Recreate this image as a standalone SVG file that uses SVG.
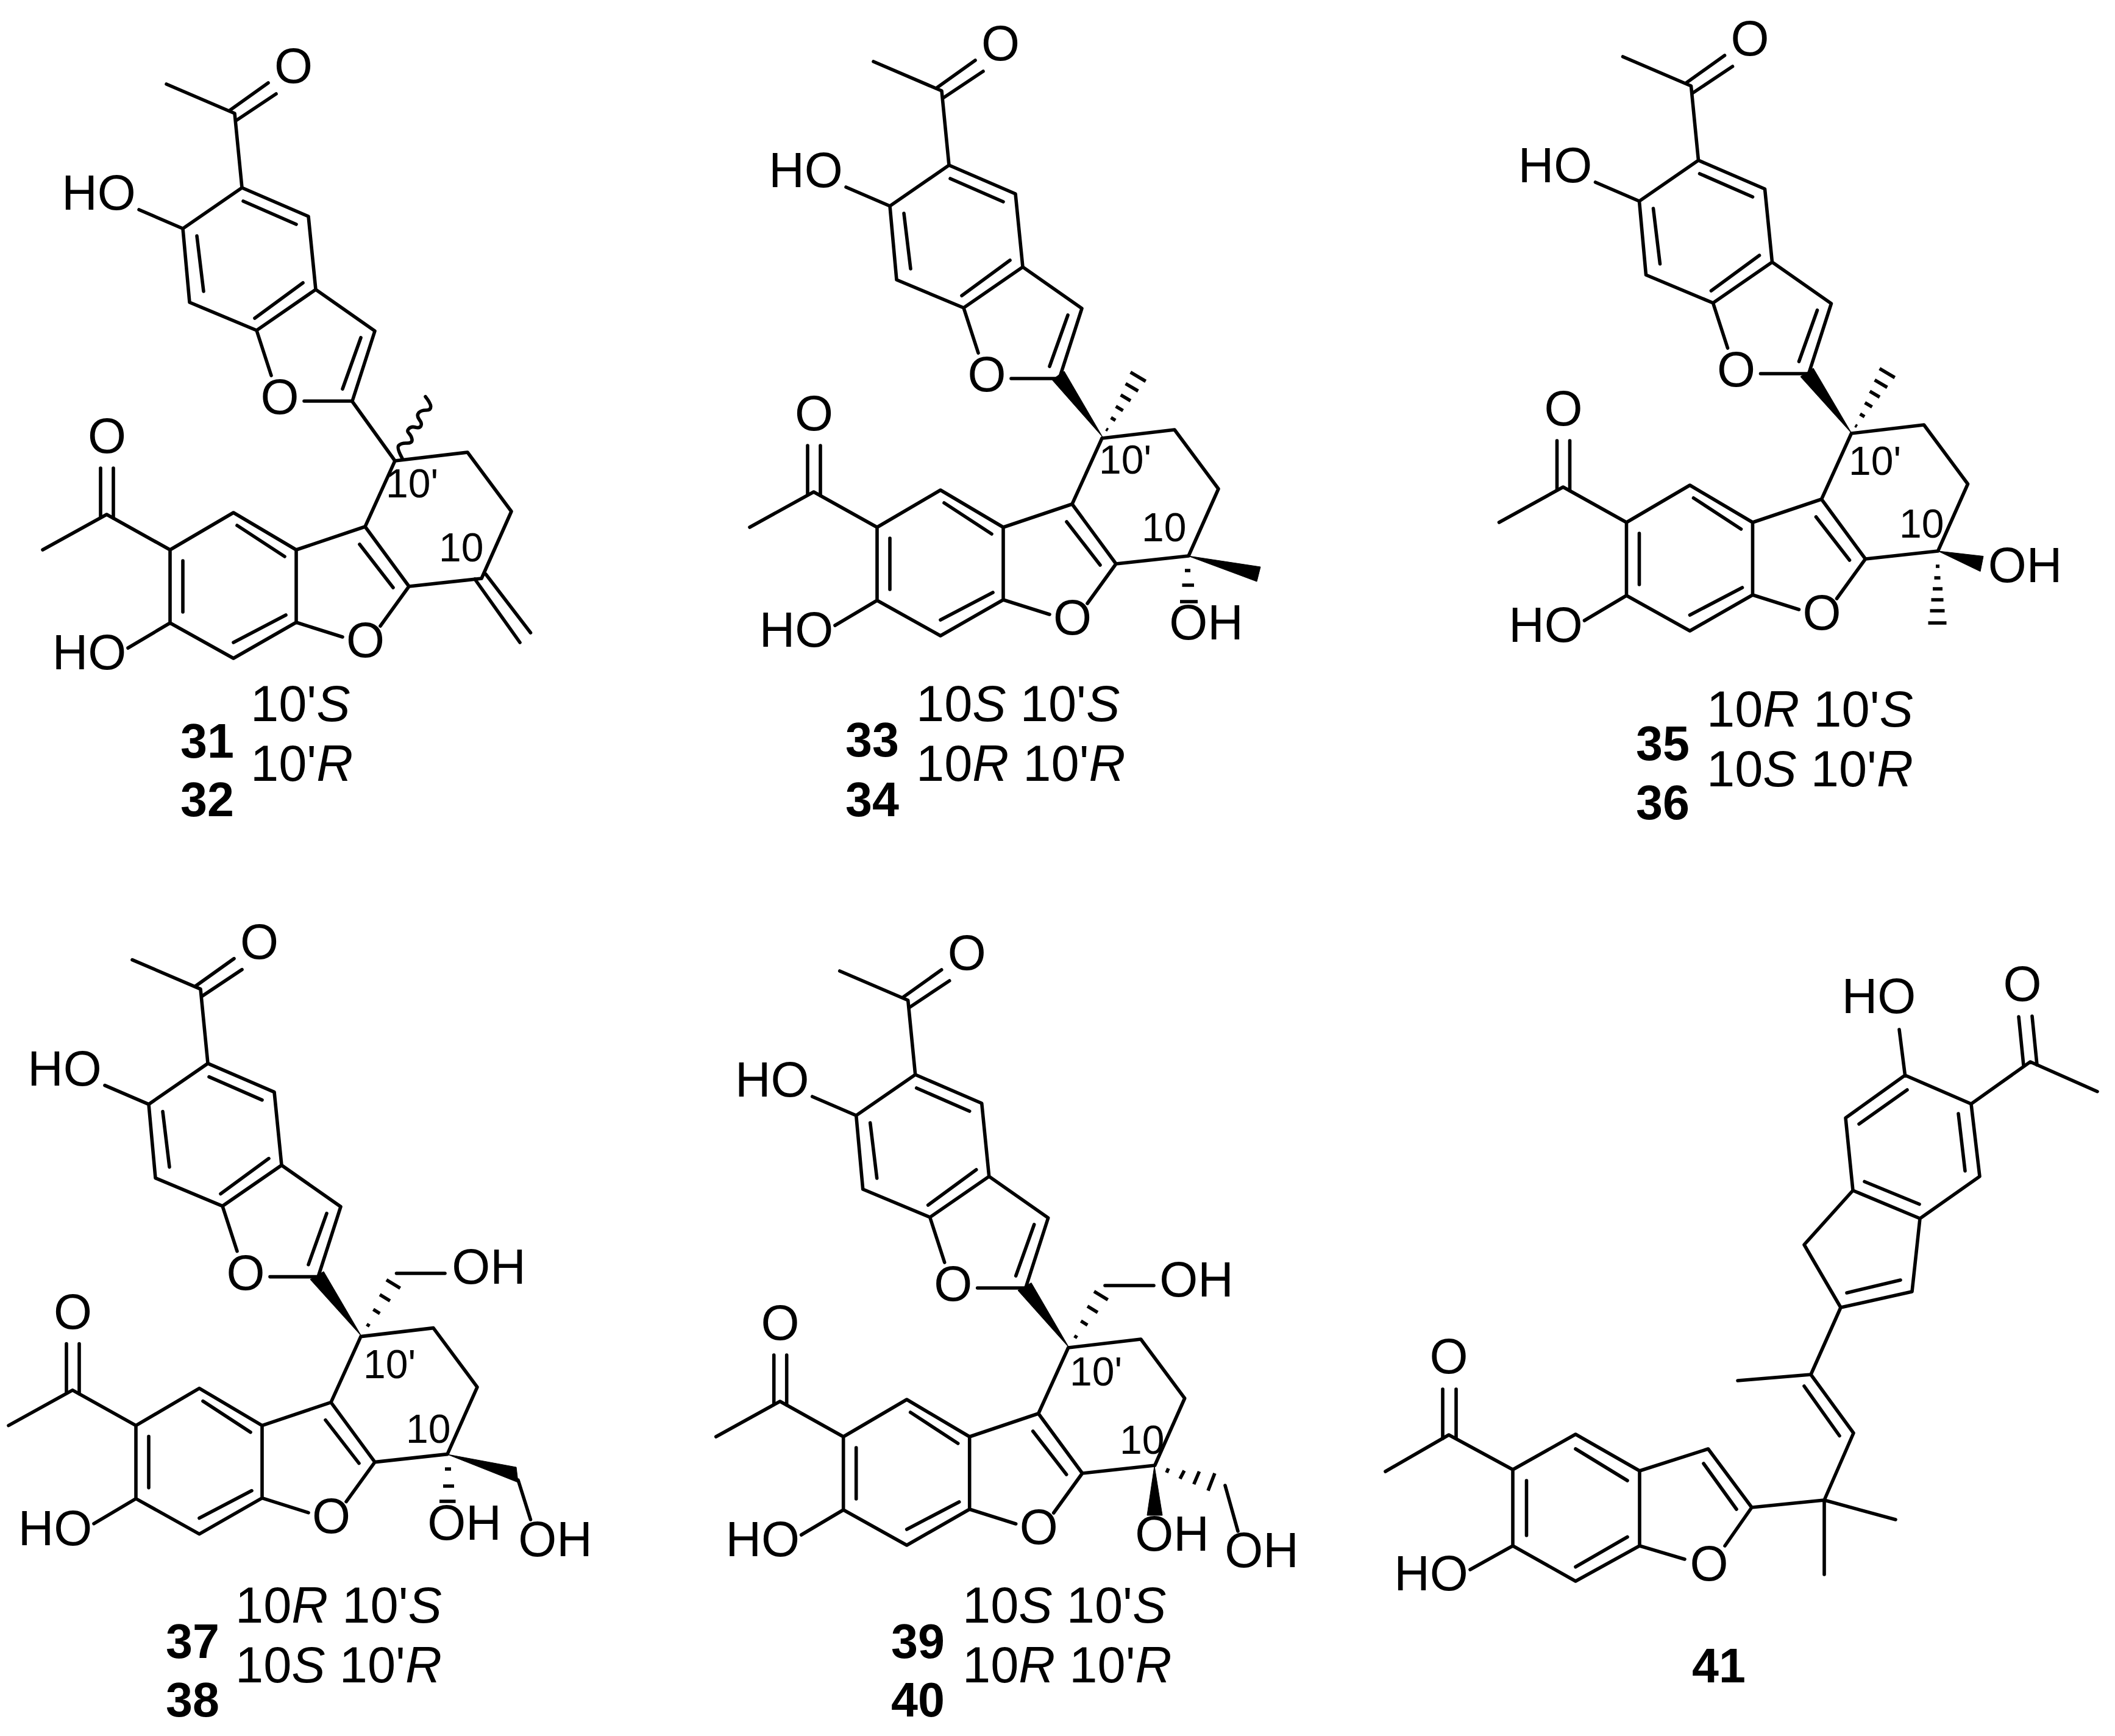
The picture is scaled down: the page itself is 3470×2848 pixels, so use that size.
<svg xmlns="http://www.w3.org/2000/svg" xmlns:xlink="http://www.w3.org/1999/xlink" width="3470" height="2848" viewBox="0 0 3470 2848">
<style>
.b{fill:none;stroke:#000;stroke-width:5.6;stroke-linecap:round;stroke-linejoin:round}
.h{fill:none;stroke:#000;stroke-width:5.6;stroke-linecap:butt}
.w{fill:#000;stroke:#000;stroke-width:1;stroke-linejoin:round}
text{font-family:"Liberation Sans",Arial,sans-serif;fill:#000}
.a{font-size:81px;text-anchor:middle}
.n{font-size:66px}
.s{font-size:83px}
.i{font-style:italic}
.c{font-size:79px;font-weight:bold}
</style>
<defs>
<g id="core">
<path class="b" d="M273,138 L385,186 L397,308 L300,375 L311,496 L421,542 L518,475 L506,355 L397,308 M300,375 L228,344 M518,475 L615,543 L578,658 L499,658 M421,542 L445,616 M648,756 L767,742 L839,839 L790,949 L671,962 L599,864 L648,756 M599,864 L486,902 L383,841 L279,902 L279,1022 L383,1080 L486,1021 L486,902 M671,962 L624,1027 M486,1021 L562,1045 M279,902 L175,844 L70,902 M279,1022 L210,1063"/>
<path class="b" d="M377,181 L440,136 M387,198 L453,154 M399,330 L486,368 M323,387 L334,478 M497,464 L418,522 M592,554 L562,638 M590,893 L645,964 M389,862 L467,913 M300,920 L300,1004 M383,1054 L469,1009 M165,768 L165,849 M186,768 L186,850"/>
</g>
<g id="hashMe">
<path class="h" d="M5.7,-13.1 L8.7,-11.3 M13.7,-31.8 L21.1,-27.4 M21.7,-50.4 L33.5,-43.4 M29.7,-69.1 L45.9,-59.5 M37.7,-87.7 L58.3,-75.5 M45.7,-106.3 L70.7,-91.5"/>
</g>
<g id="hashCH2">
<path class="h" d="M8.6,-19.5 L13.4,-16.5 M19.4,-43.8 L30.2,-37.2 M30.1,-68.1 L46.9,-57.9 M41,-92.4 L63.6,-78.6"/>
</g>
</defs>
<rect width="3470" height="2848" fill="#fff"/>

<g id="compound-31-32">
<use href="#core"/>
<path class="b" d="M577.5,658 L648,756 M779,950 L853,1054 M797,942 L870.5,1038"/>
<path class="b" d="M660,752 Q650.7,735 654,731 Q658,726.7 667,727 Q676.7,727.3 676,721 Q675,715 671,711 Q666.7,707 671,703 Q675,699 681.5,701 Q688,703 690.5,699 Q693,695 688,688.5 Q683,681.7 687,677 Q691.7,672.7 699,673 Q706.7,673 706.7,667 Q706.7,661.7 698,650.7"/>
<text class="a" x="481.5" y="136">O</text><text class="a" x="459" y="679">O</text><text class="a" x="599.5" y="1078">O</text><text class="a" x="175.4" y="743">O</text>
<text class="a" x="162" y="344">HO</text><text class="a" x="146.6" y="1098">HO</text>
<text class="n" x="633" y="816">10'</text><text class="n" x="720" y="921">10</text>
<text class="s" x="411" y="1183">10'<tspan class="i">S</tspan></text>
<text class="s" x="411" y="1281">10'<tspan class="i">R</tspan></text>
<text class="c" x="296" y="1243">31</text><text class="c" x="296" y="1339">32</text>
</g>

<g id="compound-33-34">
<use href="#core" transform="translate(1160,-37)"/>
<g transform="translate(1160,-37)">
<text class="a" x="481.5" y="136">O</text><text class="a" x="459" y="679">O</text><text class="a" x="599.5" y="1078">O</text><text class="a" x="175.4" y="743">O</text>
<text class="a" x="162" y="344">HO</text><text class="a" x="146.6" y="1098">HO</text>
</g>
<polygon class="w" points="1809,717 1726,623 1746,609"/>
<use href="#hashMe" transform="translate(1809,717)"/>
<polygon class="w" points="1949,912 2068,930 2062,954"/>
<path class="h" d="M1944,936 L1953,936 M1939.5,960 L1959,960 M1936,987 L1965,987"/>
<text class="a" x="1979" y="1049">OH</text>
<text class="n" x="1803" y="777">10'</text><text class="n" x="1873" y="888">10</text>
<text class="s" x="1503" y="1183">10<tspan class="i">S</tspan> 10'<tspan class="i">S</tspan></text>
<text class="s" x="1503" y="1281">10<tspan class="i">R</tspan> 10'<tspan class="i">R</tspan></text>
<text class="c" x="1387" y="1241">33</text><text class="c" x="1387" y="1339">34</text>
</g>

<g id="compound-35-36">
<use href="#core" transform="translate(2389.5,-45)"/>
<g transform="translate(2389.5,-45)">
<text class="a" x="481.5" y="136">O</text><text class="a" x="459" y="679">O</text><text class="a" x="599.5" y="1078">O</text><text class="a" x="175.4" y="743">O</text>
<text class="a" x="162" y="344">HO</text><text class="a" x="146.6" y="1098">HO</text>
</g>
<polygon class="w" points="3038,711 2954,618 2975,604"/>
<use href="#hashMe" transform="translate(3038,711)"/>
<polygon class="w" points="3179.5,904 3254,912.5 3249,937.5"/>
<path class="h" d="M3176,929 L3182,929 M3173.5,948 L3183.5,948 M3171,966 L3187,966 M3168.5,984 L3188.5,984 M3166.5,1002 L3190.5,1002 M3163.5,1022 L3193.5,1022"/>
<text class="a" x="3322.6" y="955">OH</text>
<text class="n" x="3033" y="778.6">10'</text><text class="n" x="3116" y="882">10</text>
<text class="s" x="2800" y="1192">10<tspan class="i">R</tspan> 10'<tspan class="i">S</tspan></text>
<text class="s" x="2800" y="1290">10<tspan class="i">S</tspan> 10'<tspan class="i">R</tspan></text>
<text class="c" x="2684" y="1247">35</text><text class="c" x="2684" y="1344">36</text>
</g>

<g id="compound-37-38">
<use href="#core" transform="translate(-56,1436.6)"/>
<g transform="translate(-56,1436.6)">
<text class="a" x="481.5" y="136">O</text><text class="a" x="459" y="679">O</text><text class="a" x="599.5" y="1078">O</text><text class="a" x="175.4" y="743">O</text>
<text class="a" x="162" y="344">HO</text><text class="a" x="146.6" y="1098">HO</text>
</g>
<polygon class="w" points="593,2192 509,2099 531,2086"/>
<use href="#hashCH2" transform="translate(593,2192)"/>
<path class="b" d="M650.5,2089 L730,2089 M850,2428 L870.5,2493"/>
<polygon class="w" points="734,2386 847,2407 850,2432"/>
<path class="h" d="M730,2410 L740,2410 M727,2438 L745,2438 M721,2463 L747.5,2463"/>
<text class="a" x="802" y="2106">OH</text><text class="a" x="762" y="2526">OH</text><text class="a" x="911" y="2553">OH</text>
<text class="n" x="596" y="2261">10'</text><text class="n" x="666" y="2367">10</text>
<text class="s" x="386" y="2661.6">10<tspan class="i">R</tspan> 10'<tspan class="i">S</tspan></text>
<text class="s" x="386" y="2760">10<tspan class="i">S</tspan> 10'<tspan class="i">R</tspan></text>
<text class="c" x="272" y="2720">37</text><text class="c" x="272" y="2816">38</text>
</g>

<g id="compound-39-40">
<use href="#core" transform="translate(1104.7,1455)"/>
<g transform="translate(1104.7,1455)">
<text class="a" x="481.5" y="136">O</text><text class="a" x="459" y="679">O</text><text class="a" x="599.5" y="1078">O</text><text class="a" x="175.4" y="743">O</text>
<text class="a" x="162" y="344">HO</text><text class="a" x="146.6" y="1098">HO</text>
</g>
<polygon class="w" points="1754,2211 1670,2117 1692,2104.5"/>
<use href="#hashCH2" transform="translate(1754,2211)"/>
<path class="b" d="M1813,2109 L1893,2109 M2010,2437 L2031,2512"/>
<polygon class="w" points="1894,2405 1882,2486 1907,2486"/>
<path class="h" d="M1914,2416 L1917,2409 M1936,2426 L1943,2412.6 M1958.7,2435 L1967.6,2414 M1982,2445.5 L1993,2417"/>
<text class="a" x="1963" y="2127">OH</text><text class="a" x="1923" y="2544">OH</text><text class="a" x="2070" y="2570.5">OH</text>
<text class="n" x="1755" y="2273">10'</text><text class="n" x="1837" y="2385">10</text>
<text class="s" x="1579" y="2661.6">10<tspan class="i">S</tspan> 10'<tspan class="i">S</tspan></text>
<text class="s" x="1579" y="2760">10<tspan class="i">R</tspan> 10'<tspan class="i">R</tspan></text>
<text class="c" x="1462" y="2720">39</text><text class="c" x="1462" y="2816">40</text>
</g>

<g id="compound-41">
<path class="b" d="M3116,1689 L3125.5,1764 L3234,1811 L3331,1742 L3441,1790.7 M3234,1811 L3248,1930 L3150,1999 L3040,1953 L3028,1834 L3125.5,1764 M3040,1953 L2960,2042 L3020,2145 L3137,2119 L3150,1999 M3020,2145 L2971,2255 L2851,2265 M2971,2255 L3041,2351 L2993,2461 L3110,2493 M2993,2461 L2993,2583 M2993,2461 L2874,2473 L2802.5,2377 L2690,2413 L2690,2536 L2764,2558 M2874,2473 L2830,2536 M2690,2413 L2585,2353 L2482,2411 L2482,2536 L2585,2594 L2690,2536 M2482,2536 L2412,2575 M2482,2411 L2377,2354 L2273,2414"/>
<path class="b" d="M3312,1668 L3320,1748 M3334,1667 L3342,1747 M3129,1788 L3050,1844 M3213,1827 L3224,1921 M3149,1975.5 L3059,1938.5 M3118,2100 L3030,2121 M2960,2274 L3018,2355.5 M2795,2401 L2849,2476 M2585,2377 L2670,2429 M2504.5,2429 L2504.5,2519 M2585,2570.5 L2670,2521.5 M2367,2279 L2367,2360 M2389,2279 L2389,2360"/>
<text class="a" x="3318" y="1641.5">O</text><text class="a" x="3082.5" y="1661.6">HO</text>
<text class="a" x="2377" y="2253">O</text><text class="a" x="2804" y="2593">O</text><text class="a" x="2348" y="2609">HO</text>
<text class="c" x="2776" y="2760">41</text>
</g>
</svg>
